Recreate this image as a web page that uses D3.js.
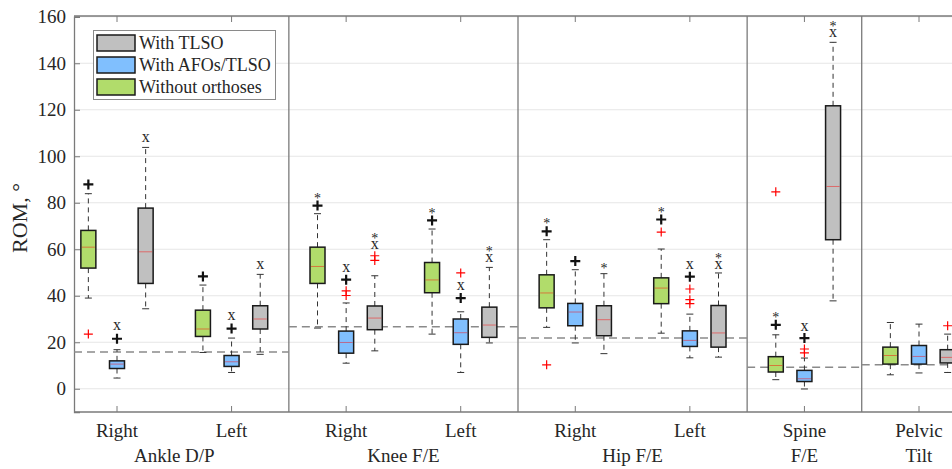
<!DOCTYPE html>
<html>
<head>
<meta charset="utf-8">
<script src="https://cdn.jsdelivr.net/npm/d3@7"></script>
<style>
  body { margin: 0; background: #fff; }
  text { font-family: "Liberation Serif", "Times New Roman", serif; fill: #262626; }
</style>
</head>
<body>
<script>

// slots: Ankle R/L, Knee R/L, Hip R/L, Spine, Pelvic
var slotLabels = ["Right", "Left", "Right", "Left", "Right", "Left", "", ""];
var groupLabels = [["Ankle D/P"], ["Knee F/E"], ["Hip F/E"], ["Spine", "F/E"], ["Pelvic", "Tilt"]];
var groupCenters = [1.5, 3.5, 5.5, 7, 8];
var separators = [2.5, 4.5, 6.5, 7.5];
var yTicks = [0, 20, 40, 60, 80, 100, 120, 140, 160];

// dashed reference line per group: [from, to, value]
var refLines = [[0.6, 2.5, 15.8], [2.5, 4.5, 26.7], [4.5, 6.5, 21.8], [6.5, 7.5, 9.2], [7.5, 8.5, 10.3]];

var legendNames = ["With TLSO", "With AFOs/TLSO", "Without orthoses"];

// [low whisker, q1, median, q3, high whisker]
var withoutStats = [
  [39.0, 51.9, 60.9, 68.1, 83.9],
  [15.6, 22.5, 25.7, 33.8, 44.6],
  [26.1, 45.3, 52.6, 60.9, 75.3],
  [23.5, 41.3, 46.8, 54.3, 68.7],
  [26.4, 34.8, 41.2, 49.0, 64.1],
  [23.9, 36.6, 43.3, 47.7, 60.1],
  [3.9, 7.2, 10.0, 13.8, 23.2],
  [6.0, 10.6, 14.3, 17.9, 28.5]
];
var afoStats = [
  [4.6, 8.7, 10.6, 12.0, 16.8],
  [7.0, 9.6, 11.6, 14.3, 21.8],
  [11.0, 15.3, 19.9, 24.8, 36.9],
  [7.0, 19.1, 24.1, 30.0, 33.1],
  [19.7, 27.1, 33.0, 36.7, 51.2],
  [13.3, 18.2, 20.8, 24.9, 32.1],
  [-0.1, 3.1, 4.3, 7.9, 13.2],
  [6.8, 10.6, 13.9, 18.6, 27.8]
];
var tlsoStats = [
  [34.4, 45.3, 58.9, 77.7, 103.8],
  [14.8, 25.7, 30.0, 35.7, 49.2],
  [16.3, 25.4, 30.4, 35.6, 48.6],
  [19.7, 22.1, 27.4, 35.1, 52.2],
  [15.1, 22.8, 29.7, 35.7, 49.5],
  [13.6, 17.9, 24.0, 35.8, 49.8],
  [37.8, 64.1, 87.0, 121.7, 149.0],
  [7.0, 11.1, 13.5, 16.8, 23.5]
];

var withoutOutliers = [[23.5], [], [], [], [10.3], [67.4], [84.7], []];
var afoOutliers = [[], [], [42.1, 40.1], [49.8], [], [42.9, 38.3, 36.6], [17.1, 15.4], []];
var tlsoOutliers = [[], [], [57.2, 55.2], [], [], [], [], [27.1]];

// significance marks above boxes: [symbol, value]
var withoutMarks = [
  [["+", 87.9]], [["+", 48.3]], [["+", 78.8], ["*", 83.1]], [["+", 72.4], ["*", 76.6]],
  [["+", 67.7], ["*", 72.1]], [["+", 72.8], ["*", 76.7]], [["+", 27.5], ["*", 31.8]], []
];
var afoMarks = [
  [["+", 21.5], ["x", 27.1]], [["+", 25.9], ["x", 31.5]], [["+", 46.9], ["x", 51.9]], [["+", 39.0], ["x", 44.0]],
  [["+", 54.9]], [["+", 48.2], ["x", 53.3]], [["+", 21.8], ["x", 26.4]], []
];
var tlsoMarks = [
  [["x", 107.7]], [["x", 53.3]], [["x", 61.9], ["*", 65.8]], [["x", 56.2], ["*", 60.1]],
  [["*", 52.6]], [["x", 53.3], ["*", 57.2]], [["x", 153.0], ["*", 157.0]], []
];

var series = [
  { name: "Without orthoses", color: "#b1dc6b", offset: -0.25, stats: withoutStats, outliers: withoutOutliers, marks: withoutMarks },
  { name: "With AFOs/TLSO", color: "#80bffe", offset: 0, stats: afoStats, outliers: afoOutliers, marks: afoMarks },
  { name: "With TLSO", color: "#c0c0c0", offset: 0.25, stats: tlsoStats, outliers: tlsoOutliers, marks: tlsoMarks }
];
var legendColors = { "With TLSO": "#c0c0c0", "With AFOs/TLSO": "#80bffe", "Without orthoses": "#b1dc6b" };

var width = 952, height = 469;
var plotLeft = 74, plotTop = 16, plotBottom = 412;

var svg = d3.select("body").append("svg")
  .attr("width", width)
  .attr("height", height);

var xScale = d3.scaleLinear().domain([1, 8]).range([117, 919]);
var yScale = d3.scaleLinear().domain([-10, 160]).range([plotBottom, plotBottom - 170 * 2.325]);

var boxW = 15, capW = 7;
var axisColor = "#7a7a7a";

// gridlines
svg.append("g")
  .selectAll("line")
  .data(yTicks)
  .enter().append("line")
    .attr("x1", plotLeft).attr("x2", width)
    .attr("y1", function(d) { return yScale(d); })
    .attr("y2", function(d) { return yScale(d); })
    .attr("stroke", "#e6e6e6")
    .attr("stroke-width", 1);

// y axis
var yAxis = svg.append("g")
  .attr("transform", "translate(" + plotLeft + ",0)")
  .call(d3.axisLeft(yScale).tickValues(yTicks).tickSize(-6).tickPadding(8));
yAxis.select(".domain").attr("stroke", axisColor).attr("stroke-width", 1.3);
yAxis.selectAll(".tick line").attr("stroke", axisColor);
yAxis.selectAll(".tick text")
  .style("font-family", "Liberation Serif, serif")
  .style("font-size", "19px")
  .attr("fill", "#262626");

// top and bottom borders
svg.append("line").attr("x1", plotLeft).attr("x2", width).attr("y1", plotTop).attr("y2", plotTop)
  .attr("stroke", axisColor).attr("stroke-width", 1.3);
svg.append("line").attr("x1", plotLeft).attr("x2", width).attr("y1", plotBottom).attr("y2", plotBottom)
  .attr("stroke", axisColor).attr("stroke-width", 1.3);

// group separators
svg.append("g").selectAll("line")
  .data(separators)
  .enter().append("line")
    .attr("x1", function(d) { return xScale(d); })
    .attr("x2", function(d) { return xScale(d); })
    .attr("y1", plotTop).attr("y2", plotBottom)
    .attr("stroke", axisColor)
    .attr("stroke-width", 1.3);

// x ticks top and bottom
var slots = d3.range(1, 9);
svg.append("g").selectAll("line")
  .data(slots)
  .enter().append("line")
    .attr("x1", function(d) { return xScale(d); })
    .attr("x2", function(d) { return xScale(d); })
    .attr("y1", plotBottom).attr("y2", plotBottom - 6)
    .attr("stroke", axisColor);
svg.append("g").selectAll("line")
  .data(slots)
  .enter().append("line")
    .attr("x1", function(d) { return xScale(d); })
    .attr("x2", function(d) { return xScale(d); })
    .attr("y1", plotTop).attr("y2", plotTop + 6)
    .attr("stroke", axisColor);

// slot labels
svg.append("g").selectAll("text")
  .data(slotLabels)
  .enter().append("text")
    .attr("x", function(d, i) { return xScale(i + 1); })
    .attr("y", 437)
    .attr("text-anchor", "middle")
    .style("font-size", "19px")
    .text(function(d) { return d; });

// group labels
groupLabels.forEach(function(lines, i) {
  var startY = lines.length > 1 ? 437 : 462;
  lines.forEach(function(t, j) {
    svg.append("text")
      .attr("x", xScale(groupCenters[i]))
      .attr("y", startY + j * 25)
      .attr("text-anchor", "middle")
      .style("font-size", "19px")
      .text(t);
  });
});

// y label
svg.append("text")
  .attr("text-anchor", "middle")
  .attr("transform", "translate(27," + ((plotTop + plotBottom) / 2 + 4) + ")rotate(-90)")
  .style("font-size", "22px")
  .text("ROM, \u00b0");

// dashed reference lines
svg.append("g").selectAll("line")
  .data(refLines)
  .enter().append("line")
    .attr("x1", function(d) { return Math.max(plotLeft, xScale(d[0])); })
    .attr("x2", function(d) { return xScale(d[1]); })
    .attr("y1", function(d) { return yScale(d[2]); })
    .attr("y2", function(d) { return yScale(d[2]); })
    .attr("stroke", "#8a8a8a")
    .attr("stroke-width", 1.5)
    .attr("stroke-dasharray", "8,5");

// boxes
series.forEach(function(s) {
  var g = svg.append("g");
  s.stats.forEach(function(st, i) {
    var cx = xScale(i + 1 + s.offset);
    // whiskers
    g.append("line")
      .attr("x1", cx).attr("x2", cx)
      .attr("y1", yScale(st[3])).attr("y2", yScale(st[4]))
      .attr("stroke", "#333").attr("stroke-dasharray", "5,4");
    g.append("line")
      .attr("x1", cx).attr("x2", cx)
      .attr("y1", yScale(st[1])).attr("y2", yScale(st[0]))
      .attr("stroke", "#333").attr("stroke-dasharray", "5,4");
    [st[0], st[4]].forEach(function(v) {
      g.append("line")
        .attr("x1", cx - capW / 2).attr("x2", cx + capW / 2)
        .attr("y1", yScale(v)).attr("y2", yScale(v))
        .attr("stroke", "#333");
    });
    g.append("rect")
      .attr("x", cx - boxW / 2)
      .attr("y", yScale(st[3]))
      .attr("width", boxW)
      .attr("height", yScale(st[1]) - yScale(st[3]))
      .attr("fill", s.color)
      .attr("stroke", "#1a1a1a")
      .attr("stroke-width", 1.5);
    g.append("line")
      .attr("x1", cx - boxW / 2 + 1).attr("x2", cx + boxW / 2 - 1)
      .attr("y1", yScale(st[2])).attr("y2", yScale(st[2]))
      .attr("stroke", "#ff0000").attr("stroke-opacity", 0.45);

    // outliers
    s.outliers[i].forEach(function(v) {
      var py = yScale(v);
      g.append("path")
        .attr("d", "M" + (cx - 4.5) + "," + py + "H" + (cx + 4.5) + "M" + cx + "," + (py - 4.5) + "V" + (py + 4.5))
        .attr("stroke", "#ff0000").attr("stroke-width", 1.2);
    });

    // significance marks
    s.marks[i].forEach(function(m) {
      var py = yScale(m[1]);
      if (m[0] === "+") {
        g.append("path")
          .attr("d", "M" + (cx - 5) + "," + py + "H" + (cx + 5) + "M" + cx + "," + (py - 5) + "V" + (py + 5))
          .attr("stroke", "#111").attr("stroke-width", 2.2);
      } else if (m[0] === "x") {
        g.append("text")
          .attr("x", cx).attr("y", py + 4)
          .attr("text-anchor", "middle")
          .style("font-size", "16px")
          .text("x");
      } else {
        g.append("text")
          .attr("x", cx).attr("y", py + 7)
          .attr("text-anchor", "middle")
          .style("font-size", "14px")
          .text("*");
      }
    });
  });
});

// legend
var legend = svg.append("g");
legend.append("rect")
  .attr("x", 93.5).attr("y", 30.5)
  .attr("width", 182).attr("height", 69)
  .attr("fill", "#fff")
  .attr("stroke", "#8a8a8a");
legendNames.forEach(function(name, i) {
  var ly = 35 + i * 22;
  legend.append("rect")
    .attr("x", 97).attr("y", ly)
    .attr("width", 38).attr("height", 16)
    .attr("fill", legendColors[name])
    .attr("stroke", "#1a1a1a")
    .attr("stroke-width", 1.5);
  legend.append("text")
    .attr("x", 139).attr("y", ly + 14)
    .style("font-size", "18px")
    .text(name);
});

</script>
</body>
</html>
